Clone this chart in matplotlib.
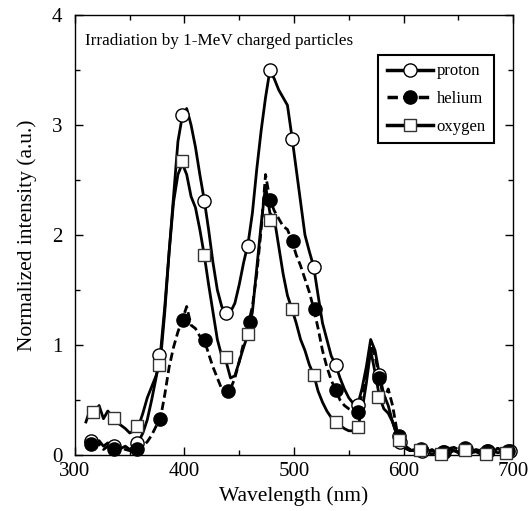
import numpy as np
import matplotlib.pyplot as plt
from matplotlib.lines import Line2D
from matplotlib.ticker import MultipleLocator

plt.rcParams['font.family'] = ['Liberation Serif', 'DejaVu Serif']

#spectra, 4 nm steps
wl = np.arange(310, 699, 4)
proton = [0.12, 0.14, 0.10, 0.13, 0.08, 0.11, 0.07, 0.09, 0.06, 0.08,
          0.05, 0.08, 0.12, 0.20, 0.32, 0.50, 0.70, 0.92, 1.35, 1.85,
          2.35, 2.85, 3.08, 3.15, 3.00, 2.80, 2.55, 2.32, 2.05, 1.75,
          1.50, 1.35, 1.29, 1.30, 1.38, 1.55, 1.75, 1.92, 2.20, 2.60,
          2.95, 3.25, 3.50, 3.42, 3.32, 3.25, 3.18, 2.90, 2.60, 2.30,
          2.00, 1.85, 1.71, 1.45, 1.20, 1.05, 0.90, 0.82, 0.70, 0.60,
          0.52, 0.47, 0.45, 0.60, 0.80, 1.05, 0.95, 0.73, 0.55, 0.45,
          0.30, 0.18, 0.10, 0.06, 0.04, 0.05, 0.03, 0.04, 0.03, 0.05,
          0.02, 0.04, 0.03, 0.05, 0.04, 0.03, 0.06, 0.04, 0.03, 0.05,
          0.04, 0.02, 0.05, 0.03, 0.06, 0.04, 0.03, 0.05]
helium = [0.08, 0.12, 0.07, 0.10, 0.05, 0.08, 0.06, 0.04, 0.07, 0.05,
          0.04, 0.03, 0.05, 0.08, 0.12, 0.18, 0.26, 0.33, 0.55, 0.80,
          0.98, 1.12, 1.23, 1.35, 1.18, 1.15, 1.08, 1.05, 0.92, 0.80,
          0.70, 0.60, 0.55, 0.60, 0.70, 0.85, 1.02, 1.18, 1.35, 1.65,
          2.05, 2.55, 2.32, 2.22, 2.15, 2.08, 2.05, 1.95, 1.82, 1.72,
          1.60, 1.48, 1.33, 1.15, 0.95, 0.80, 0.68, 0.59, 0.50, 0.45,
          0.42, 0.40, 0.39, 0.55, 0.75, 1.00, 0.90, 0.70, 0.50, 0.60,
          0.45, 0.22, 0.15, 0.08, 0.05, 0.05, 0.04, 0.06, 0.03, 0.04,
          0.03, 0.05, 0.04, 0.06, 0.07, 0.05, 0.06, 0.04, 0.05, 0.03,
          0.04, 0.03, 0.05, 0.04, 0.06, 0.04, 0.05, 0.03]
oxygen = [0.30, 0.42, 0.38, 0.45, 0.33, 0.40, 0.35, 0.30, 0.27, 0.24,
          0.20, 0.22, 0.26, 0.38, 0.52, 0.62, 0.72, 0.85, 1.30, 1.85,
          2.30, 2.55, 2.65, 2.55, 2.35, 2.25, 2.05, 1.82, 1.55, 1.30,
          1.05, 0.90, 0.85, 0.70, 0.72, 0.85, 0.98, 1.10, 1.30, 1.70,
          2.10, 2.45, 2.20, 2.15, 1.90, 1.65, 1.45, 1.33, 1.20, 1.05,
          0.95, 0.82, 0.73, 0.58, 0.48, 0.40, 0.34, 0.30, 0.27, 0.24,
          0.22, 0.22, 0.25, 0.40, 0.65, 0.95, 0.75, 0.53, 0.42, 0.38,
          0.30, 0.18, 0.12, 0.06, 0.04, 0.04, 0.02, 0.03, 0.02, 0.01,
          0.02, 0.01, 0.03, 0.02, 0.04, 0.02, 0.03, 0.05, 0.02, 0.03,
          0.01, 0.03, 0.02, 0.04, 0.02, 0.03, 0.01, 0.03]

#marker points
p_wl = [315, 336, 357, 377, 398, 418, 438, 458, 478, 498, 518, 538, 558, 578, 597, 617, 637, 657, 677, 697]
p_val = [0.13, 0.08, 0.11, 0.91, 3.09, 2.31, 1.29, 1.90, 3.50, 2.87, 1.71, 0.82, 0.45, 0.73, 0.12, 0.04, 0.03, 0.05, 0.04, 0.04]
h_wl = [315, 336, 357, 378, 399, 419, 440, 460, 478, 499, 519, 538, 558, 578, 596, 616, 636, 656, 676, 695]
h_val = [0.10, 0.05, 0.05, 0.33, 1.23, 1.05, 0.58, 1.21, 2.32, 1.95, 1.33, 0.59, 0.39, 0.70, 0.17, 0.05, 0.03, 0.06, 0.04, 0.04]
o_wl = [316, 336, 357, 377, 398, 418, 438, 458, 478, 498, 518, 538, 558, 577, 596, 615, 634, 656, 675, 694]
o_val = [0.39, 0.34, 0.26, 0.82, 2.67, 1.82, 0.89, 1.10, 2.14, 1.33, 0.73, 0.30, 0.25, 0.53, 0.14, 0.045, 0.01, 0.045, 0.01, 0.02]

fig = plt.figure(figsize=(5.31, 5.11), dpi=100)
ax = fig.add_axes([0.1412, 0.1096, 0.825, 0.861])

lw = 2.0
dash = (0, (3, 1.5))
ax.plot(wl, helium, color='black', lw=lw, linestyle=dash)
ax.plot(wl, proton, color='black', lw=lw)
ax.plot(wl, oxygen, color='black', lw=lw)

ax.plot(p_wl, p_val, 'o', ms=9.5, mfc='white', mec='black', mew=1.0, clip_on=False, zorder=3)
ax.plot(h_wl, h_val, 'o', ms=9.5, mfc='black', mec='black', mew=1.0, clip_on=False, zorder=4)
ax.plot(o_wl, o_val, 's', ms=9, mfc='white', mec='#333333', mew=1.0, clip_on=False, zorder=5)

ax.set_xlim(300, 700)
ax.set_ylim(0, 4)
ax.xaxis.set_major_locator(MultipleLocator(100))
ax.xaxis.set_minor_locator(MultipleLocator(50))
ax.yaxis.set_major_locator(MultipleLocator(1))
ax.yaxis.set_minor_locator(MultipleLocator(0.5))
ax.tick_params(which='both', direction='in', top=True, right=True, labelsize=15, width=1.0)
ax.tick_params(which='major', length=6)
ax.tick_params(which='minor', length=3.5)
ax.tick_params(axis='y', which='major', pad=9)
ax.tick_params(axis='x', which='major', pad=5)
for s in ax.spines.values():
    s.set_linewidth(1.0)

ax.set_xlabel('Wavelength (nm)', fontsize=15.5, labelpad=4)
ax.set_ylabel('Normalized intensity (a.u.)', fontsize=15.5, labelpad=11)

ax.text(0.023, 0.941, 'Irradiation by 1-MeV charged particles', transform=ax.transAxes,
        fontsize=12.3, va='center', ha='left')

handles = [Line2D([], [], color='black', lw=2.5, marker='o', ms=9.5, mfc='white', mec='black'),
           Line2D([], [], color='black', lw=2.5, linestyle=dash, marker='o', ms=9.5, mfc='black', mec='black'),
           Line2D([], [], color='black', lw=2.5, marker='s', ms=9, mfc='white', mec='#333333')]
leg = ax.legend(handles, ['proton', 'helium', 'oxygen'], loc='upper right',
                bbox_to_anchor=(0.957, 0.909), borderaxespad=0, fontsize=12,
                fancybox=False, edgecolor='black', framealpha=1, handlelength=2.8,
                handletextpad=0.2, labelspacing=0.7, borderpad=0.5)
leg.get_frame().set_linewidth(1.5)

fig.savefig('out.png', dpi=100)
